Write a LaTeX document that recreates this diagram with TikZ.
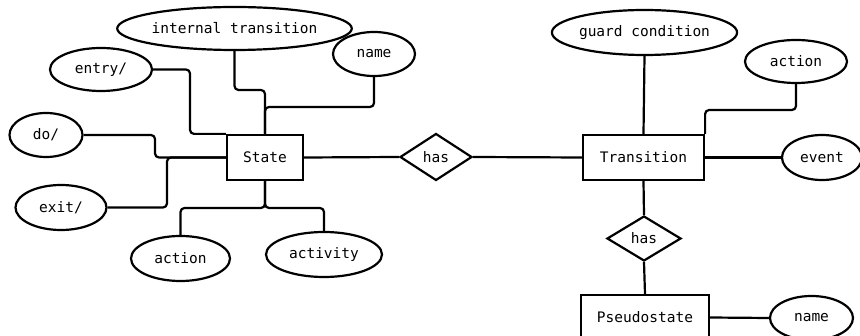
\documentclass[tikz,border=0pt]{standalone}
\usepackage{fontspec}
\setmonofont{DejaVu Sans Mono}
\usetikzlibrary{shapes.geometric}
\begin{document}
\begin{tikzpicture}[x=1pt,y=-1pt,
 every node/.style={font=\ttfamily\fontsize{14.5pt}{16pt}\selectfont, draw, line width=2.2pt, inner sep=0pt},
 ent/.style={rectangle},
 attr/.style={ellipse},
 rel/.style={diamond},
 conn/.style={line width=2.2pt, rounded corners=4pt}]
\useasboundingbox (0,0) rectangle (860,336);
% entities
\node[ent, minimum width=76pt, minimum height=45pt] (state) at (265,157.5) {State};
\node[ent, minimum width=121pt, minimum height=45pt] (trans) at (643.5,157.5) {Transition};
\node[ent, minimum width=128pt, minimum height=45pt] (pseudo) at (645,317.5) {Pseudostate};
% relationships
\node[rel, minimum width=72pt, minimum height=47pt] (has1) at (436,157) {has};
\node[rel, minimum width=74pt, minimum height=45pt] (has2) at (644,238.5) {has};
% attributes
\node[attr, minimum width=213pt, minimum height=43pt] (itrans) at (234.5,28.5) {internal transition};
\node[attr, minimum width=82pt, minimum height=44pt] (nameL) at (374,54) {name};
\node[attr, minimum width=102pt, minimum height=43pt] (entry) at (101,69.5) {entry/};
\node[attr, minimum width=73pt, minimum height=44pt] (do) at (46,135) {do/};
\node[attr, minimum width=91pt, minimum height=45pt] (exit) at (61,207.5) {exit/};
\node[attr, minimum width=99pt, minimum height=45pt] (actL) at (180.5,258.5) {action};
\node[attr, minimum width=116pt, minimum height=45pt] (activity) at (324,254.5) {activity};
\node[attr, minimum width=179pt, minimum height=45pt] (guard) at (644.5,32.5) {guard condition};
\node[attr, minimum width=102pt, minimum height=43pt] (actR) at (796,61.5) {action};
\node[attr, minimum width=80pt, minimum height=45pt] (event) at (822,157.5) {event};
\node[attr, minimum width=83pt, minimum height=44pt] (nameR) at (811.5,318) {name};
% connectors
\draw[conn] (entry.east) -| (190,100) |- (state.north west);
\draw[conn] (itrans.south) |- (state.north |- 0,90) -- (state.north);
\draw[conn] (nameL.south) |- (state.north |- 0,107) -- (state.north);
\draw[conn] (do.east) -| (155,148) |- (state.west);
\draw[conn] (exit.east) -| (167,170) |- (state.west);
\draw[conn] (actL.north) |- (state.south |- 0,208) -- (state.south);
\draw[conn] (activity.north) |- (state.south |- 0,208) -- (state.south);
\draw[conn] (state.east) -- (has1.west);
\draw[conn] (has1.east) -- (trans.west);
\draw[conn] (guard.south) -- (trans.north);
\draw[conn] (actR.south) |- (trans.north east |- 0,110) -- (trans.north east);
\draw[conn] (trans.east) -- (event.west);
\draw[conn] (trans.south) -- (has2.north);
\draw[conn] (has2.south) -- (pseudo.north);
\draw[conn] (pseudo.east) -- (nameR.west);
\end{tikzpicture}
\end{document}
